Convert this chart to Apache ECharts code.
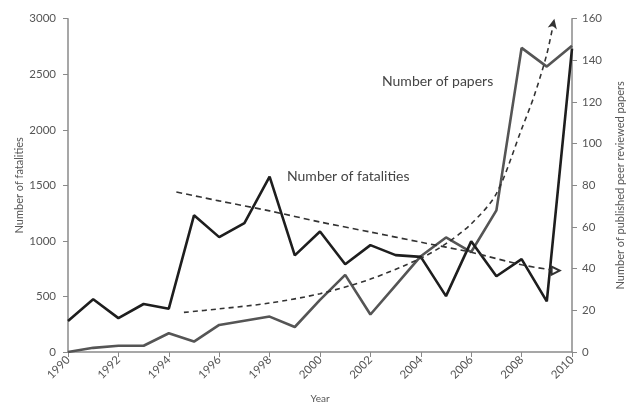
<!DOCTYPE html>
<html>
<head>
<meta charset="utf-8">
<script src="https://cdn.jsdelivr.net/npm/echarts@6/dist/echarts.min.js"></script>
<style>
  html, body { margin: 0; padding: 0; background: #fff; }
  #chart { width: 634px; height: 409px; }
</style>
</head>
<body>
<div id="chart"></div>
<script>
// Annual fatalities and peer-reviewed papers, 1990–2010
const years = [1990, 1991, 1992, 1993, 1994, 1995, 1996, 1997, 1998, 1999, 2000,
               2001, 2002, 2003, 2004, 2005, 2006, 2007, 2008, 2009, 2010];
const fatalities = [280, 475, 305, 432, 390, 1230, 1034, 1160, 1578, 870, 1084,
                    790, 962, 872, 856, 503, 996, 682, 836, 455, 2730];
const papers = [0, 2, 3, 3, 9, 5, 13, 15, 17, 12, 25,
                37, 18, 32, 46, 55, 48, 68, 146, 137, 147];

// Trend curves (year, value)
const fatalityTrendX = [1994.3, 1996, 1998, 2000, 2002, 2004, 2006, 2008, 2009.35];
const fatalityTrendY = [1440, 1360, 1270, 1170, 1080, 988, 897, 785, 733];
const paperTrendX = [1994.6, 1996, 1998, 2000, 2002, 2004, 2005, 2006, 2007, 2008, 2008.5, 2009, 2009.3];
const paperTrendY = [19, 20.7, 23.5, 28, 35, 45, 52, 61.5, 76, 107, 123, 143, 160];

// Axis ticks
const yearTicks = [1990, 1992, 1994, 1996, 1998, 2000, 2002, 2004, 2006, 2008, 2010];
const fatalityTicks = [0, 500, 1000, 1500, 2000, 2500, 3000];
const paperTicks = [0, 20, 40, 60, 80, 100, 120, 140, 160];

const FONT = 'Lato, "Open Sans", sans-serif';
const axisGrey = '#8a8a8a';
const textGrey = '#555';

const pairs = (xs, ys) => xs.map((x, i) => [x, ys[i]]);

const fatalityTrend = pairs(fatalityTrendX, fatalityTrendY);
fatalityTrend[fatalityTrend.length - 1] = {
  value: fatalityTrend[fatalityTrend.length - 1],
  symbol: 'emptyTriangle', symbolSize: 8, symbolRotate: -90
};
const paperTrend = pairs(paperTrendX, paperTrendY);
paperTrend[paperTrend.length - 1] = {
  value: paperTrend[paperTrend.length - 1],
  symbol: 'arrow', symbolSize: [7, 10], symbolRotate: -12
};

const chart = echarts.init(document.getElementById('chart'), null, { renderer: 'canvas' });

chart.setOption({
  backgroundColor: '#fff',
  animation: false,
  textStyle: { fontFamily: FONT },
  grid: { left: 68, right: 60, top: 18.7, bottom: 49 },
  xAxis: {
    type: 'value',
    min: yearTicks[0],
    max: yearTicks[yearTicks.length - 1],
    interval: yearTicks[1] - yearTicks[0],
    name: 'Year',
    nameLocation: 'middle',
    nameGap: 42,
    nameTextStyle: { color: textGrey, fontSize: 10, fontFamily: FONT },
    splitLine: { show: false },
    axisLine: { show: true, lineStyle: { color: axisGrey, width: 1.5 } },
    axisTick: { show: true, length: 5, lineStyle: { color: axisGrey } },
    axisLabel: {
      rotate: 45, color: textGrey, fontSize: 11.5, fontFamily: FONT, margin: 6,
      formatter: v => String(v)
    }
  },
  yAxis: [
    {
      type: 'value',
      min: fatalityTicks[0],
      max: fatalityTicks[fatalityTicks.length - 1],
      interval: fatalityTicks[1] - fatalityTicks[0],
      name: 'Number of fatalities',
      nameLocation: 'middle',
      nameGap: 43,
      nameMoveOverlap: false,
      nameRotate: 90,
      nameTextStyle: { color: textGrey, fontSize: 11, fontFamily: FONT },
      splitLine: { show: false },
      axisLine: { show: true, lineStyle: { color: axisGrey, width: 1.5 } },
      axisTick: { show: true, length: 5, lineStyle: { color: axisGrey } },
      axisLabel: { color: textGrey, fontSize: 11.5, fontFamily: FONT, margin: 12,
                   formatter: v => String(v) }
    },
    {
      type: 'value',
      position: 'right',
      min: paperTicks[0],
      max: paperTicks[paperTicks.length - 1],
      interval: paperTicks[1] - paperTicks[0],
      name: 'Number of published peer reviewed papers',
      nameLocation: 'middle',
      nameGap: 43,
      nameMoveOverlap: false,
      nameRotate: 90,
      nameTextStyle: { color: textGrey, fontSize: 11, fontFamily: FONT },
      splitLine: { show: false },
      axisLine: { show: true, lineStyle: { color: axisGrey, width: 1.5 } },
      axisTick: { show: true, length: 5, lineStyle: { color: axisGrey } },
      axisLabel: { color: textGrey, fontSize: 11.5, fontFamily: FONT, margin: 10 }
    }
  ],
  series: [
    {
      name: 'Number of papers',
      type: 'line',
      yAxisIndex: 1,
      data: pairs(years, papers),
      showSymbol: false,
      symbol: 'none',
      lineStyle: { color: '#555', width: 2.6 },
      z: 2
    },
    {
      name: 'Number of fatalities',
      type: 'line',
      yAxisIndex: 0,
      data: pairs(years, fatalities),
      showSymbol: false,
      symbol: 'none',
      lineStyle: { color: '#1e1e1e', width: 2.6 },
      z: 3
    },
    {
      name: 'Fatality trend',
      type: 'line',
      yAxisIndex: 0,
      data: fatalityTrend,
      symbol: 'none',
      smooth: 0.3,
      itemStyle: { color: '#333', borderWidth: 1.3 },
      lineStyle: { color: '#333', width: 1.6, type: [6, 4] },
      z: 4
    },
    {
      name: 'Paper trend',
      type: 'line',
      yAxisIndex: 1,
      data: paperTrend,
      symbol: 'none',
      smooth: 0.3,
      itemStyle: { color: '#333' },
      lineStyle: { color: '#333', width: 1.6, type: [5, 4] },
      z: 4
    }
  ],
  graphic: [
    {
      type: 'text',
      style: {
        x: 382, y: 81, text: 'Number of papers',
        font: '14px ' + FONT, fill: '#444', verticalAlign: 'middle'
      }
    },
    {
      type: 'text',
      style: {
        x: 287, y: 176, text: 'Number of fatalities',
        font: '14px ' + FONT, fill: '#444', verticalAlign: 'middle'
      }
    }
  ]
});
</script>
</body>
</html>
